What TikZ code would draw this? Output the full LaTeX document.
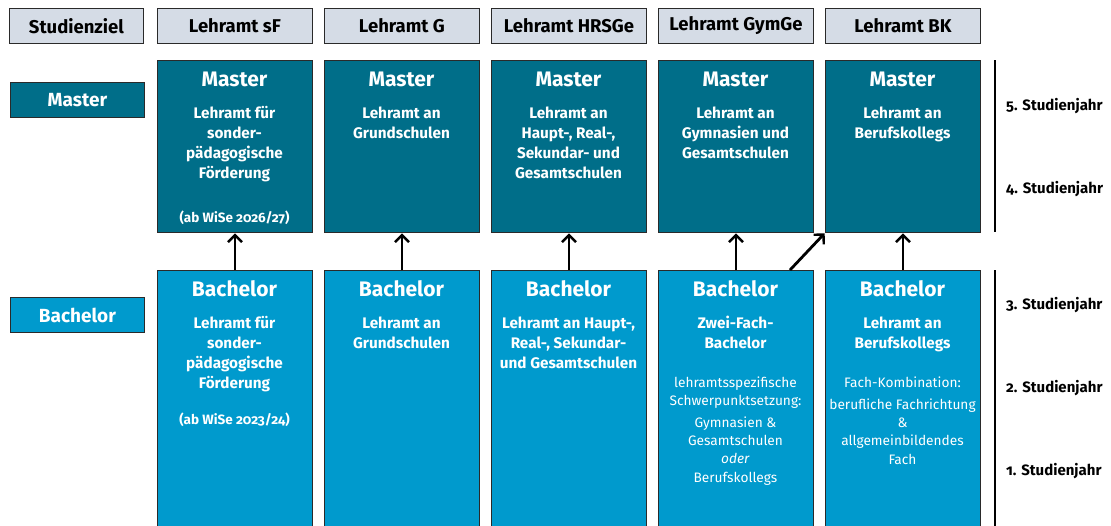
\documentclass[tikz,border=0pt]{standalone}
\usepackage{fontspec}
\setmainfont{Fira Sans}[Numbers=OldStyle]
\usetikzlibrary{arrows.meta}
\definecolor{hdr}{HTML}{D5DCE6}
\definecolor{mst}{HTML}{006E89}
\definecolor{bch}{HTML}{009ACD}
\definecolor{edge}{HTML}{2A2A2A}
\newcommand\mlines[1]{\begin{tabular}[t]{@{}c@{}}#1\end{tabular}}
\begin{document}
\begin{tikzpicture}[x=1pt, y=-1pt,
  box/.style={draw=edge, line width=0.9pt, inner sep=0pt, anchor=north west, minimum width=155pt},
  hdrbox/.style={box, fill=hdr, minimum height=35pt},
  mstbox/.style={box, fill=mst, minimum height=172pt},
  bchbox/.style={box, fill=bch, minimum height=262pt},
  hdrtxt/.style={font=\fontsize{18.5}{20}\selectfont\bfseries, text=black},
  lbl/.style={font=\fontsize{19}{20}\selectfont\bfseries, text=white},
  ttl/.style={font=\fontsize{21}{22}\selectfont\bfseries, text=white, anchor=base, inner sep=0pt},
  body/.style={font=\fontsize{15.3}{20}\selectfont\bfseries, text=white, anchor=base, inner sep=0pt},
  note/.style={font=\fontsize{13.5}{16}\selectfont\bfseries, text=white, anchor=base, inner sep=0pt},
  thin/.style={font=\fontsize{13.7}{18.4}\selectfont, text=white, anchor=base, inner sep=0pt},
  yr/.style={font=\fontsize{15}{16}\selectfont\bfseries, text=black, anchor=base west, inner sep=0pt},
  arr/.style={-{Straight Barb[length=7pt,width=14pt,line width=2.4pt]}, line width=2.8pt, shorten >=0.5pt},
  sep/.style={line width=2pt, draw=black}
]
\useasboundingbox (0,0) rectangle (1111,525);
\clip (0,0) rectangle (1111,525);
% left column
\node[box, fill=hdr, minimum width=134pt, minimum height=35pt] (hz) at (9,8) {};
\node[hdrtxt] at (hz.center) {Studienziel};
\node[box, fill=mst, minimum width=134pt, minimum height=35pt] (lm) at (10,82) {};
\node[lbl] at (lm.center) {Master};
\node[box, fill=bch, minimum width=134pt, minimum height=35pt] (lb) at (10,297) {};
\node[lbl] at (lb.center) {Bachelor};
% headers
\node[hdrbox] (h1) at (157,8) {}; \node[hdrtxt] at (h1.center) {Lehramt sF};
\node[hdrbox] (h2) at (324,8) {}; \node[hdrtxt] at (h2.center) {Lehramt G};
\node[hdrbox] (h3) at (491,8) {}; \node[hdrtxt] at (h3.center) {Lehramt HRSGe};
\node[hdrbox] (h4) at (658,8) {}; \node[hdrtxt] at (h4.center) {Lehramt GymGe};
\node[hdrbox] (h5) at (825,8) {}; \node[hdrtxt] at (h5.center) {Lehramt BK};
% master boxes
\node[mstbox] (m1) at (157,60) {};
\node[mstbox] (m2) at (324,60) {};
\node[mstbox] (m3) at (491,60) {};
\node[mstbox] (m4) at (658,60) {};
\node[mstbox] (m5) at (825,60) {};
\foreach \c in {234.5,401.5,568.5,735.5,902.5} {\node[ttl] at (\c,86) {Master};}
\node[body] at (234.5,118) {\mlines{Lehramt für\\sonder-\\pädagogische\\Förderung}};
\node[note] at (234.5,222) {(ab WiSe 2026/27)};
\node[body] at (401.5,118) {\mlines{Lehramt an\\Grundschulen}};
\node[body] at (568.5,118) {\mlines{Lehramt an\\Haupt-, Real-,\\Sekundar- und\\Gesamtschulen}};
\node[body] at (735.5,118) {\mlines{Lehramt an\\Gymnasien und\\Gesamtschulen}};
\node[body] at (902.5,118) {\mlines{Lehramt an\\Berufskollegs}};
% bachelor boxes
\node[bchbox] (b1) at (157,270) {};
\node[bchbox] (b2) at (324,270) {};
\node[bchbox] (b3) at (491,270) {};
\node[bchbox] (b4) at (658,270) {};
\node[bchbox] (b5) at (825,270) {};
\foreach \c in {234.5,401.5,568.5,735.5,902.5} {\node[ttl] at (\c,296) {Bachelor};}
\node[body] at (234.5,328) {\mlines{Lehramt für\\sonder-\\pädagogische\\Förderung}};
\node[note] at (234.5,424) {(ab WiSe 2023/24)};
\node[body] at (401.5,328) {\mlines{Lehramt an\\Grundschulen}};
\node[body] at (568.5,328) {\mlines{Lehramt an Haupt-,\\Real-, Sekundar-\\und Gesamtschulen}};
\node[body] at (735.5,328) {\mlines{Zwei-Fach-\\Bachelor}};
\node[thin] at (735.5,387) {\mlines{lehramtsspezifische\\Schwerpunktsetzung:}};
\node[thin] at (735.5,427) {\mlines{Gymnasien \&\\Gesamtschulen\\\emph{oder}\\Berufskollegs}};
\node[body] at (902.5,328) {\mlines{Lehramt an\\Berufskollegs}};
\node[thin] at (902.5,387) {Fach-Kombination:};
\node[thin] at (902.5,409) {\mlines{berufliche Fachrichtung\\\&\\allgemeinbildendes\\Fach}};
% arrows
\draw[arr] (b1.north) -- (m1.south);
\draw[arr] (b2.north) -- (m2.south);
\draw[arr] (b3.north) -- (m3.south);
\draw[arr] (b4.north) -- (m4.south);
\draw[arr] (b5.north) -- (m5.south);
\coordinate (dstart) at (790,270);
\draw[arr] (dstart) -- (m5.south west);
% separators and year labels
\coordinate (s1) at (995,60); \coordinate (s2) at (995,232);
\coordinate (s3) at (995,270); \coordinate (s4) at (995,528);
\draw[sep] (s1) -- (s2);
\draw[sep] (s3) -- (s4);
\node[yr] (y5) at (1006,110) {5. Studienjahr};
\node[yr] (y4) at (1006,193) {4. Studienjahr};
\node[yr] (y3) at (1006,309) {3. Studienjahr};
\node[yr] (y2) at (1006,392) {2. Studienjahr};
\node[yr] (y1) at (1006,475) {1. Studienjahr};
\end{tikzpicture}
\end{document}
